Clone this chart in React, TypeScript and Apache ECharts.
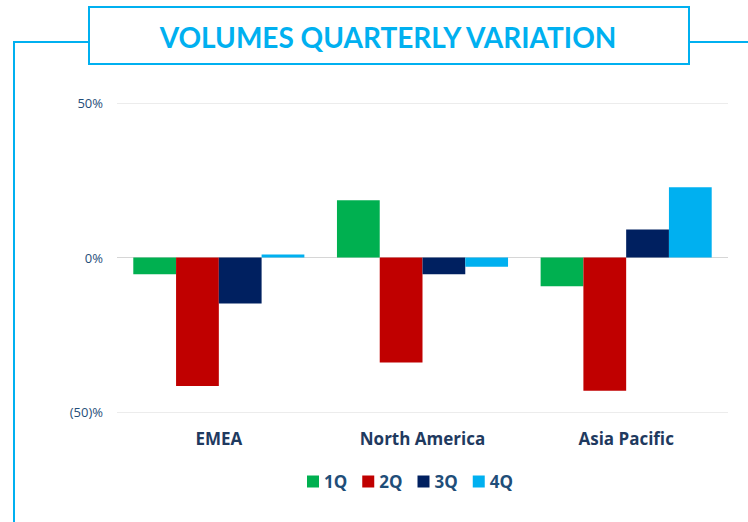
import React, { useEffect, useRef } from "react";
import * as echarts from "echarts";

const categories = ["EMEA", "North America", "Asia Pacific"];
const seriesNames = ["1Q", "2Q", "3Q", "4Q"];
const q1 = [-5.4, 18.5, -9.3];
const q2 = [-41.6, -34.0, -43.1];
const q3 = [-14.9, -5.4, 9.1];
const q4 = [1.0, -3.0, 22.7];
const colors = ["#00b050", "#c00000", "#002060", "#00b0f0"];
const yTicks = [-50, 0, 50];

export default function App() {
  const ref = useRef<HTMLDivElement>(null);
  useEffect(() => {
    if (!ref.current) return;
    const chart = echarts.init(ref.current, null, { renderer: "svg" });
    const data = [q1, q2, q3, q4];
    chart.setOption({
      animation: false,
      backgroundColor: "#ffffff",
      grid: { left: 117, right: 20, top: 103, bottom: 110, containLabel: false },
      legend: {
        left: 302,
        top: 468,
        itemWidth: 12,
        itemHeight: 12,
        itemGap: 15,
        icon: "rect",
        data: seriesNames,
        textStyle: {
          fontFamily: "Open Sans",
          fontWeight: "bold",
          fontSize: 17,
          color: "#1f4e79",
        },
      },
      xAxis: {
        type: "category",
        data: categories,
        axisLine: { show: false, onZero: false },
        axisTick: { show: false },
        axisLabel: {
          margin: 18,
          fontFamily: "Open Sans",
          fontWeight: "bold",
          fontSize: 17,
          color: "#1f3a5f",
        },
      },
      yAxis: {
        type: "value",
        min: yTicks[0],
        max: yTicks[yTicks.length - 1],
        interval: 50,
        axisLine: { show: false },
        axisTick: { show: false },
        splitLine: {
          lineStyle: { color: ["#ececec", "#d6d6d6", "#ececec"], width: 1 },
        },
        axisLabel: {
          margin: 14,
          fontFamily: "Open Sans",
          fontSize: 13,
          color: "#1f4e79",
          formatter: (v: number) => (v < 0 ? `(${Math.abs(v)})%` : `${v}%`),
        },
      },
      series: seriesNames.map((name, i) => ({
        name,
        type: "bar",
        data: data[i],
        barGap: "0%",
        barCategoryGap: "16%",
        itemStyle: { color: colors[i] },
      })),
      graphic: [
        {
          type: "polyline",
          shape: { points: [[14, 522], [14, 42], [89, 42]] },
          style: { stroke: "#00b0f0", lineWidth: 2, fill: "none" },
        },
        {
          type: "line",
          shape: { x1: 689, y1: 42, x2: 748, y2: 42 },
          style: { stroke: "#00b0f0", lineWidth: 2 },
        },
        {
          type: "rect",
          shape: { x: 89, y: 7, width: 600, height: 57 },
          style: { stroke: "#00b0f0", lineWidth: 2, fill: "#ffffff" },
        },
        {
          type: "text",
          x: 388,
          y: 37,
          style: {
            text: "VOLUMES QUARTERLY VARIATION",
            fontFamily: "Lato",
            fontWeight: "bold",
            fontSize: 28,
            fill: "#00b0f0",
            align: "center",
            verticalAlign: "middle",
          },
        },
      ],
    });
    return () => chart.dispose();
  }, []);
  return (
    <div
      ref={ref}
      style={{ position: "fixed", left: 0, top: 0, width: 748, height: 522 }}
    />
  );
}
